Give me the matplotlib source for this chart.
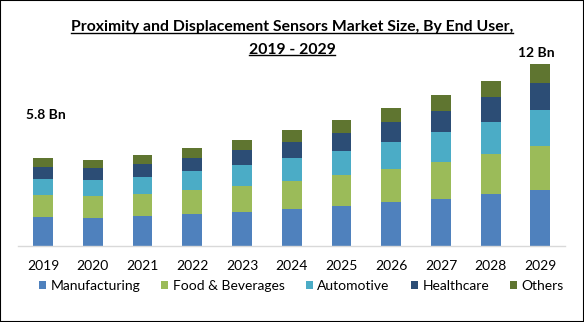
import matplotlib
matplotlib.use("Agg")
import matplotlib.pyplot as plt
import numpy as np
from matplotlib.patches import Patch, Rectangle
from matplotlib.lines import Line2D

years = ["2019", "2020", "2021", "2022", "2023", "2024",
         "2025", "2026", "2027", "2028", "2029"]
segments = ["Manufacturing", "Food & Beverages", "Automotive", "Healthcare", "Others"]
manufacturing = [1.91, 1.85, 1.98, 2.11, 2.24, 2.44, 2.66, 2.90, 3.10, 3.45, 3.69]
food_beverages = [1.45, 1.45, 1.45, 1.60, 1.71, 1.87, 2.02, 2.20, 2.46, 2.64, 2.90]
automotive = [1.07, 1.05, 1.14, 1.25, 1.40, 1.52, 1.60, 1.78, 1.98, 2.11, 2.39]
healthcare = [0.79, 0.81, 0.86, 0.86, 0.99, 1.03, 1.19, 1.30, 1.38, 1.65, 1.78]
others = [0.57, 0.53, 0.59, 0.64, 0.64, 0.79, 0.84, 0.92, 1.03, 1.03, 1.23]
colors = ["#4F81BD", "#9BBB59", "#4BACC6", "#2C4D75", "#5F7530"]

plt.rcParams['font.family'] = ['Lato', 'DejaVu Sans']

fig = plt.figure(figsize=(5.84, 3.22), dpi=100)
ax = fig.add_axes([0.031, 0.236, 0.937, 0.636])

x = np.arange(len(years))
bottom = np.zeros(len(years))
series = [manufacturing, food_beverages, automotive, healthcare, others]
for vals, col in zip(series, colors):
    ax.bar(x, vals, width=0.4, bottom=bottom, color=col)
    bottom += np.array(vals)

ax.set_xlim(-0.5, len(years) - 0.5)
ax.set_ylim(0, 13.5)
ax.set_xticks(x)
ax.set_xticklabels(years, fontsize=10, color="black")
ax.tick_params(axis="x", length=0, pad=10)
ax.set_yticks([])
for side in ["left", "right", "top"]:
    ax.spines[side].set_visible(False)
ax.spines["bottom"].set_color("#D9D9D9")
ax.spines["bottom"].set_linewidth(1)

# value callouts for first and last year
ax.annotate("5.8 Bn", xy=(0, bottom[0]), xytext=(2, 27), textcoords="offset points",
            ha="center", va="bottom", fontsize=10, fontweight="bold")
ax.annotate("12 Bn", xy=(10, bottom[-1]), xytext=(-3, 3.5), textcoords="offset points",
            ha="center", va="bottom", fontsize=10, fontweight="bold")

# title with underline
title_lines = ["Proximity and Displacement Sensors Market Size, By End User,", "2019 - 2029"]
t1 = fig.text(0.5, 1 - 26.8 / 322, title_lines[0], ha="center", va="center",
              fontsize=11.3, fontweight="bold")
t2 = fig.text(0.5, 1 - 49.5 / 322, title_lines[1], ha="center", va="center",
              fontsize=11.3, fontweight="bold")
fig.canvas.draw()
r = fig.canvas.get_renderer()
for t in (t1, t2):
    bb = t.get_window_extent(renderer=r).transformed(fig.transFigure.inverted())
    fig.add_artist(Line2D([bb.x0, bb.x1], [bb.y0 + 0.004, bb.y0 + 0.004],
                          transform=fig.transFigure, color="black", lw=1))

handles = [Patch(facecolor=c, edgecolor="none") for c in colors]
fig.legend(handles, segments, loc="center", bbox_to_anchor=(0.516, 1 - 286 / 322),
           ncol=5, frameon=False, fontsize=10, handlelength=0.5, handleheight=0.5,
           handletextpad=0.35, columnspacing=1.5)

fig.add_artist(Rectangle((0, 0), 1, 1, transform=fig.transFigure, fill=False,
                         edgecolor="black", lw=1.5))

fig.savefig("out.png", dpi=100)
